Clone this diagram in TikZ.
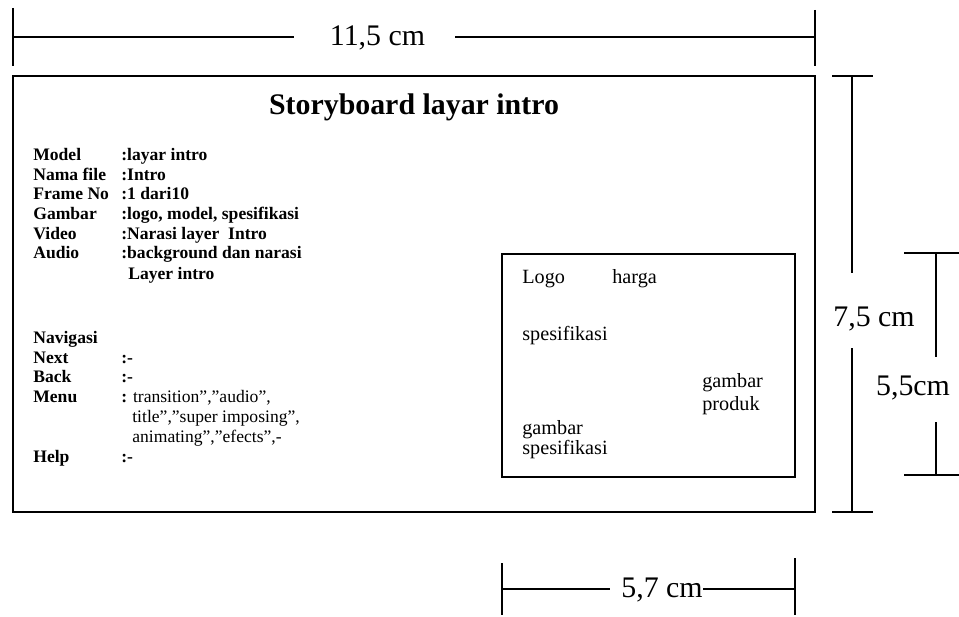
\documentclass[tikz,border=0pt]{standalone}
\usepackage{fontspec}
\setmainfont{Liberation Serif}
\begin{document}
\begin{tikzpicture}[
    frame/.style={line width=1.1pt},
    box/.style={line width=0.85pt},
    dim/.style={line width=0.7pt},
    dimlab/.style={font=\fontsize{17}{20}\selectfont, inner sep=0pt, anchor=base},
    key/.style={font=\fontsize{10}{12}\selectfont\bfseries, anchor=base west, inner sep=0pt},
    txt/.style={font=\fontsize{10}{12}\selectfont, anchor=base west, inner sep=0pt},
    item/.style={font=\fontsize{11.5}{14}\selectfont, anchor=base west, inner sep=0pt}]
  \useasboundingbox (0,0) rectangle (19.18,12.32);
  % Screen frame
  \draw[frame] (0.26,2.08) rectangle (16.30,10.80);
  \node[font=\fontsize{17}{20}\selectfont\bfseries, anchor=base, inner sep=0pt] (title) at (8.28,10.02) {Storyboard layar intro};
  % Data rows
  \foreach \i/\k/\v in {0/Model/{:layar intro}, 1/Nama file/{:Intro}, 2/Frame No/{:1 dari10},
      3/Gambar/{:logo, model, spesifikasi}, 4/Video/{:Narasi layer\ \ Intro}, 5/Audio/{:background dan narasi}} {
    \node[key] (k\i) at (0.66,9.10-0.39*\i) {\k};
    \node[key] (v\i) at (2.42,9.10-0.39*\i) {\v};
  }
  \node[key] (v6) at (2.56,6.74) {Layer intro};
  % Navigation rows
  \node[key] (nav) at (0.66,5.46) {Navigasi};
  \node[key] (next) at (0.66,5.06) {Next};
  \node[key] (nextv) at (2.42,5.06) {:-};
  \node[key] (back) at (0.66,4.68) {Back};
  \node[key] (backv) at (2.42,4.68) {:-};
  \node[key] (menu) at (0.66,4.28) {Menu};
  \node[txt] (menu1) at (2.42,4.28) {\textbf{:} transition”,”audio”,};
  \node[txt] (menu2) at (2.64,3.88) {title”,”super imposing”,};
  \node[txt] (menu3) at (2.64,3.48) {animating”,”efects”,-};
  \node[key] (help) at (0.66,3.08) {Help};
  \node[key] (helpv) at (2.42,3.08) {:-};
  % Preview box
  \draw[box] (10.04,2.78) rectangle (15.90,7.24);
  \node[item] (logo) at (10.44,6.66) {Logo};
  \node[item] (harga) at (12.24,6.66) {harga};
  \node[item] (spek) at (10.44,5.52) {spesifikasi};
  \node[item] (prod1) at (14.04,4.58) {gambar};
  \node[item] (prod2) at (14.04,4.12) {produk};
  \node[item] (gspek1) at (10.44,3.64) {gambar};
  \node[item] (gspek2) at (10.44,3.24) {spesifikasi};
  % Width 11,5 cm
  \coordinate (wa) at (0.26,11.58); \coordinate (wb) at (16.30,11.58);
  \coordinate (wa1) at (5.88,11.58); \coordinate (wb1) at (9.10,11.58);
  \node[dimlab] (wlab) at (7.55,11.40) {11,5 cm};
  \draw[dim] (0.26,12.16) -- (0.26,11.00);
  \draw[dim] (16.30,12.12) -- (16.30,11.00);
  \draw[dim] (wa) -- (wa1);
  \draw[dim] (wb1) -- (wb);
  % Height 7,5 cm
  \coordinate (ha) at (17.04,10.80); \coordinate (hb) at (17.04,2.08);
  \coordinate (ha1) at (17.04,6.86); \coordinate (hb1) at (17.04,5.36);
  \node[dimlab] (hlab) at (17.48,5.79) {7,5 cm};
  \draw[dim] (16.64,10.80) -- (17.46,10.80);
  \draw[dim] (16.64,2.08) -- (17.46,2.08);
  \draw[dim] (ha) -- (ha1);
  \draw[dim] (hb1) -- (hb);
  % Height 5,5 cm
  \coordinate (sa) at (18.72,7.26); \coordinate (sb) at (18.72,2.82);
  \coordinate (sa1) at (18.72,5.18); \coordinate (sb1) at (18.72,3.88);
  \node[dimlab] (slab) at (18.26,4.41) {5,5cm};
  \draw[dim] (18.08,7.26) -- (19.18,7.26);
  \draw[dim] (18.08,2.82) -- (19.18,2.82);
  \draw[dim] (sa) -- (sa1);
  \draw[dim] (sb1) -- (sb);
  % Width 5,7 cm
  \coordinate (pa) at (10.04,0.54); \coordinate (pb) at (15.90,0.54);
  \coordinate (pa1) at (12.20,0.54); \coordinate (pb1) at (14.06,0.54);
  \node[dimlab] (plab) at (13.24,0.37) {5,7 cm};
  \draw[dim] (10.04,1.06) -- (10.04,0.02);
  \draw[dim] (15.90,1.16) -- (15.90,0.02);
  \draw[dim] (pa) -- (pa1);
  \draw[dim] (pb1) -- (pb);
\end{tikzpicture}
\end{document}
